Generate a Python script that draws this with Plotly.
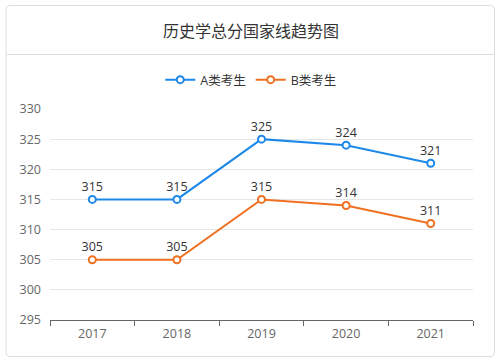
import plotly.graph_objects as go

years = ["2017", "2018", "2019", "2020", "2021"]
series_a = [315, 315, 325, 324, 321]
series_b = [305, 305, 315, 314, 311]
name_a = "A类考生"
name_b = "B类考生"
title = "历史学总分国家线趋势图"
y_ticks = [295, 300, 305, 310, 315, 320, 325, 330]

FONT = "Open Sans, Noto Sans CJK SC, sans-serif"
CJK = "Noto Sans CJK SC, sans-serif"
BLUE = "#1e88e8"
ORANGE = "#f07022"

W, H = 501, 361
L, R, T, B = 49.5, 28, 109, 41

fig = go.Figure()
for name, vals, col in [(name_a, series_a, BLUE), (name_b, series_b, ORANGE)]:
    fig.add_trace(go.Scatter(
        x=years, y=vals, name=name, mode="lines+markers+text",
        text=[str(v) for v in vals], textposition="top center",
        textfont=dict(size=12.5, color="#333333", family=FONT),
        line=dict(color=col, width=2),
        marker=dict(symbol="circle", size=7, color="white", line=dict(color=col, width=2)),
        cliponaxis=False,
    ))

def px_x(px):
    return (px - L) / (W - L - R)

def px_y(py):
    return 1 - (py - T) / (H - T - B)

shapes = [
    dict(type="path", xref="paper", yref="paper",
         path=(f"M {px_x(10)} {px_y(5.5)} L {px_x(490)} {px_y(5.5)} "
               f"Q {px_x(494.5)} {px_y(5.5)} {px_x(494.5)} {px_y(10)} "
               f"L {px_x(494.5)} {px_y(352)} Q {px_x(494.5)} {px_y(356.5)} {px_x(490)} {px_y(356.5)} "
               f"L {px_x(10)} {px_y(356.5)} Q {px_x(5.5)} {px_y(356.5)} {px_x(5.5)} {px_y(352)} "
               f"L {px_x(5.5)} {px_y(10)} Q {px_x(5.5)} {px_y(5.5)} {px_x(10)} {px_y(5.5)} Z"),
         line=dict(color="#dddddd", width=1), fillcolor="rgba(0,0,0,0)", layer="below"),
    dict(type="line", xref="paper", yref="paper",
         x0=px_x(6), x1=px_x(494), y0=px_y(54.5), y1=px_y(54.5),
         line=dict(color="#dddddd", width=1)),
]

fig.update_layout(
    width=W, height=H,
    margin=dict(l=L, r=R, t=T, b=B),
    paper_bgcolor="white", plot_bgcolor="white",
    font=dict(family=FONT, color="#666666", size=12),
    showlegend=True,
    legend=dict(orientation="h", x=0.5 * (px_x(0) + px_x(W)), xanchor="center", y=px_y(80), yanchor="middle",
                font=dict(size=12.5, color="#333333", family=FONT), itemwidth=30,
                bgcolor="rgba(0,0,0,0)"),
    annotations=[dict(text=title, xref="paper", yref="paper", x=0.5 * (px_x(0) + px_x(W)), y=px_y(30),
                      xanchor="center", yanchor="middle", showarrow=False,
                      font=dict(size=16, color="#333333", family=CJK))],
    shapes=shapes,
    xaxis=dict(type="category", range=[-0.5, len(years) - 0.5], showgrid=False, showline=True,
               linecolor="#666666", linewidth=1,
               ticks="outside", tickson="boundaries", ticklen=5, tickcolor="#666666",
               ticklabelstandoff=2,
               tickfont=dict(size=12.5, color="#666666"), fixedrange=True),
    yaxis=dict(range=[295, 330], tickvals=y_ticks, showgrid=True, gridcolor="#e6e6e6", gridwidth=1,
               zeroline=False, showline=False, ticks="", ticklabelstandoff=8,
               tickfont=dict(size=12.5, color="#666666"), fixedrange=True),
)

fig.write_html("out.html", config={"displayModeBar": False},
               post_script="document.body.style.margin='0';")
